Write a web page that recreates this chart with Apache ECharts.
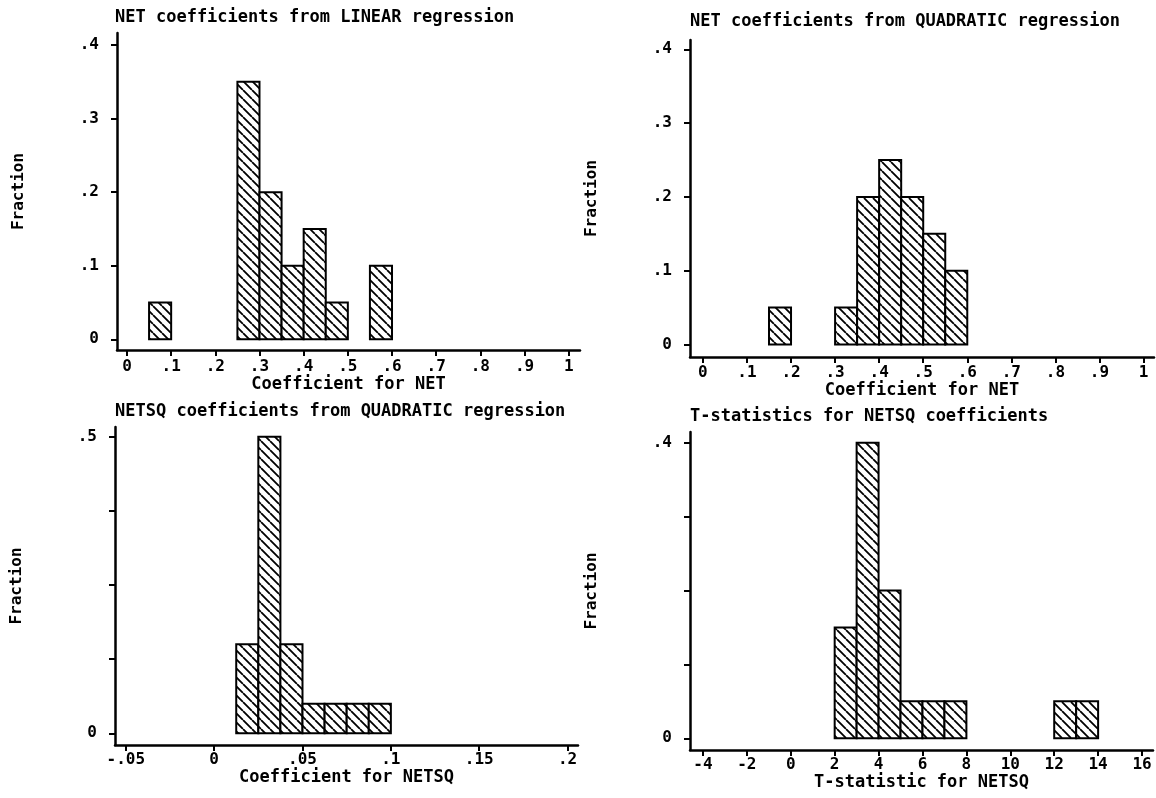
<!DOCTYPE html>
<html>
<head>
<meta charset="utf-8">
<script src="https://cdn.jsdelivr.net/npm/echarts@6/dist/echarts.min.js"></script>
<style>
  html, body { margin: 0; padding: 0; background: #fff; }
  #main { width: 1156px; height: 798px; }
</style>
</head>
<body>
<div id="main"></div>
<script>
// bin left edges, bin widths and fractions
var linBins = [0.05, 0.25, 0.30, 0.35, 0.40, 0.45, 0.55];
var linFrac = [0.05, 0.35, 0.20, 0.10, 0.15, 0.05, 0.10];
var linWidth = 0.05;

var quadBins = [0.15, 0.30, 0.35, 0.40, 0.45, 0.50, 0.55];
var quadFrac = [0.05, 0.05, 0.20, 0.25, 0.20, 0.15, 0.10];
var quadWidth = 0.05;

var sqBins = [0.0125, 0.025, 0.0375, 0.05, 0.0625, 0.075, 0.0875];
var sqFrac = [0.15, 0.50, 0.15, 0.05, 0.05, 0.05, 0.05];
var sqWidth = 0.0125;

var tBins = [2, 3, 4, 5, 6, 7, 12, 13];
var tFrac = [0.15, 0.40, 0.20, 0.05, 0.05, 0.05, 0.05, 0.05];
var tWidth = 1;

// tick values / labels
var netTicks = [0, 0.1, 0.2, 0.3, 0.4, 0.5, 0.6, 0.7, 0.8, 0.9, 1];
var fracTicks = [0, 0.1, 0.2, 0.3, 0.4];
var sqTicks = [-0.05, 0, 0.05, 0.1, 0.15, 0.2];
var sqYTicks = [0, 0.125, 0.25, 0.375, 0.5];
var sqYLabels = [0, 0.5];
var tTicks = [-4, -2, 0, 2, 4, 6, 8, 10, 12, 14, 16];
var tYTicks = [0, 0.1, 0.2, 0.3, 0.4];
var tYLabels = [0, 0.4];

var titles = [
    'NET coefficients from LINEAR regression',
    'NET coefficients from QUADRATIC regression',
    'NETSQ coefficients from QUADRATIC regression',
    'T-statistics for NETSQ coefficients'
];
var xNames = ['Coefficient for NET', 'Coefficient for NET', 'Coefficient for NETSQ', 'T-statistic for NETSQ'];

var FONT = 'DejaVu Sans Mono';
var myChart = echarts.init(document.getElementById('main'));

function makeHatch(s) {
    var c = document.createElement('canvas');
    c.width = s; c.height = s;
    var g = c.getContext('2d');
    g.fillStyle = '#fff';
    g.fillRect(0, 0, s, s);
    g.strokeStyle = '#000';
    g.lineWidth = 1.8;
    g.beginPath();
    for (var k = -1; k <= 1; k++) {
        g.moveTo(k * s, 0);
        g.lineTo(k * s + s, s);
    }
    g.stroke();
    return c;
}
var hatch = makeHatch(9);

// ".4" style labels, no leading zero
function fmt(v) {
    var s = String(+v.toFixed(4));
    return s.replace(/^(-?)0\./, '$1.');
}

function renderBar(params, api) {
    var p0 = api.coord([api.value(0), api.value(2)]);
    var p1 = api.coord([api.value(1), 0]);
    return {
        type: 'rect',
        shape: { x: p0[0], y: p0[1], width: p1[0] - p0[0], height: p1[1] - p0[1] },
        style: { fill: { image: hatch, repeat: 'repeat' }, stroke: '#000', lineWidth: 2 }
    };
}

function toData(bins, frac, w) {
    return bins.map(function (b, i) { return [b, b + w, frac[i]]; });
}

// grid boxes (px) and axis extents chosen so the axes sit a little off the data, Stata style
var panels = [
    { grid: { left: 117, top: 33, width: 463, height: 317 }, x: [-0.0226, 1.0256], y: [-0.0145, 0.4162],
      xt: netTicks, xl: netTicks, yt: fracTicks, yl: fracTicks, data: toData(linBins, linFrac, linWidth),
      title: [115, 9], lm: 9, ng: 25 },
    { grid: { left: 690, top: 40, width: 464, height: 317 }, x: [-0.0293, 1.0238], y: [-0.0169, 0.4126],
      xt: netTicks, xl: netTicks, yt: fracTicks, yl: fracTicks, data: toData(quadBins, quadFrac, quadWidth),
      title: [690, 13], lm: 8, ng: 23 },
    { grid: { left: 115, top: 427, width: 463, height: 318 }, x: [-0.0561, 0.2059], y: [-0.0197, 0.5164],
      xt: sqTicks, xl: sqTicks, yt: sqYTicks, yl: sqYLabels, data: toData(sqBins, sqFrac, sqWidth),
      title: [115, 403], lm: 7, ng: 20 },
    { grid: { left: 690, top: 432, width: 463, height: 318 }, x: [-4.59, 16.5], y: [-0.0158, 0.4145],
      xt: tTicks, xl: tTicks, yt: tYTicks, yl: tYLabels, data: toData(tBins, tFrac, tWidth),
      title: [690, 408], lm: 7, ng: 19 }
];

function draw() {
    var option = {
        backgroundColor: '#fff',
        animation: false,
        title: [], grid: [], xAxis: [], yAxis: [], series: []
    };
    panels.forEach(function (p, i) {
        option.title.push({
            text: titles[i], left: p.title[0], top: p.title[1], padding: 0,
            textStyle: { fontFamily: FONT, fontSize: 17, fontWeight: 'bold', color: '#000' }
        });
        option.grid.push(Object.assign({ outerBoundsMode: 'none' }, p.grid));
        option.xAxis.push({
            type: 'value', gridIndex: i, min: p.x[0], max: p.x[1],
            name: xNames[i], nameLocation: 'middle', nameGap: p.ng,
            nameTextStyle: { fontFamily: FONT, fontSize: 17, fontWeight: 'bold', color: '#000' },
            axisLine: { show: true, onZero: false, lineStyle: { color: '#000', width: 2.5 } },
            axisTick: { show: true, length: 6, customValues: p.xt, lineStyle: { color: '#000', width: 2 } },
            axisLabel: { customValues: p.xl, formatter: fmt, margin: p.lm, fontFamily: FONT, fontSize: 16, fontWeight: 'bold', color: '#000' },
            splitLine: { show: false }
        });
        option.yAxis.push({
            type: 'value', gridIndex: i, min: p.y[0], max: p.y[1],
            name: 'Fraction', nameLocation: 'middle', nameGap: 90,
            nameTextStyle: { fontFamily: FONT, fontSize: 16, fontWeight: 'bold', color: '#000' },
            axisLine: { show: true, onZero: false, lineStyle: { color: '#000', width: 2.5 } },
            axisTick: { show: true, length: 6, customValues: p.yt, lineStyle: { color: '#000', width: 2 } },
            axisLabel: { customValues: p.yl, formatter: fmt, margin: 18, fontFamily: FONT, fontSize: 16, fontWeight: 'bold', color: '#000' },
            splitLine: { show: false }
        });
        option.series.push({
            type: 'custom', xAxisIndex: i, yAxisIndex: i,
            renderItem: renderBar,
            encode: { x: [0, 1], y: 2 },
            data: p.data
        });
    });
    myChart.setOption(option);
}

draw();
</script>
</body>
</html>
